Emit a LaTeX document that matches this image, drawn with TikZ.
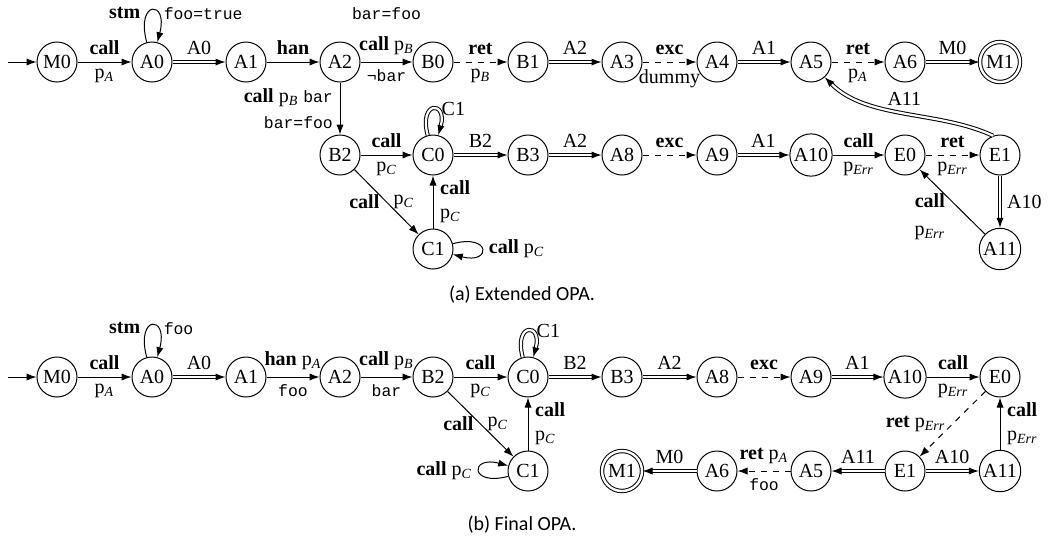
\documentclass[tikz,border=0pt]{standalone}
\usepackage{fontspec}
\setmainfont{Liberation Serif}
\setsansfont{Carlito}
\setmonofont{Liberation Mono}[Scale=0.82]
\usetikzlibrary{arrows.meta,positioning}
\newcommand\kw[1]{\textbf{#1}}
\newcommand\pr[1]{p\textsubscript{\textit{#1}}}
\newcommand\vr[1]{\texttt{#1}}
\begin{document}
\begin{tikzpicture}[x=0.5pt,y=0.5pt,
  stn/.style={circle,draw,line width=0.5pt,minimum size=20pt,inner sep=1pt},
  acc/.style={stn,double,double distance=1.2pt},
  arr/.style={-{Latex[length=5pt,width=3.6pt]},line width=0.5pt},
  darr/.style={arr,double,double distance=1.1pt},
  rarr/.style={arr,dashed},
  every loop/.style={},
  capt/.style={font=\sffamily\fontsize{10}{12}\selectfont}
]
\useasboundingbox (0,0) rectangle (1052,-543);

% ---------- (a) extended automaton ----------
\node[stn] (M0a) at (57,-62) {M0};
\node[stn] (A0a) at (152,-62) {A0};
\node[stn] (A1a) at (246,-62) {A1};
\node[stn] (A2a) at (340,-62) {A2};
\node[stn] (B0a) at (433,-62) {B0};
\node[stn] (B1a) at (528,-62) {B1};
\node[stn] (A3a) at (622,-62) {A3};
\node[stn] (A4a) at (717,-62) {A4};
\node[stn] (A5a) at (811,-62) {A5};
\node[stn] (A6a) at (905,-62) {A6};
\node[acc] (M1a) at (1000,-62) {M1};
\node[stn] (B2a) at (340,-155) {B2};
\node[stn] (C0a) at (433,-155) {C0};
\node[stn] (B3a) at (528,-155) {B3};
\node[stn] (A8a) at (622,-155) {A8};
\node[stn] (A9a) at (717,-155) {A9};
\node[stn] (A10a) at (811,-155) {A10};
\node[stn] (E0a) at (905,-155) {E0};
\node[stn] (E1a) at (1000,-155) {E1};
\node[stn] (C1a) at (433,-249) {C1};
\node[stn] (A11a) at (1000,-249) {A11};
\coordinate (ia) at (8,-62);

\draw[arr] (ia) -- (M0a);
\draw[arr] (M0a) -- node[above]{\kw{call}} node[below]{\pr{A}} (A0a);
\draw[arr] (A0a) to[out=105,in=75,looseness=8,min distance=22pt]
  node[pos=.35,left]{\kw{stm}} node[pos=.65,right]{\vr{foo=true}} (A0a);
\draw[darr] (A0a) -- node[above]{A0} (A1a);
\draw[arr] (A1a) -- node[above]{\kw{han}} (A2a);
\draw[arr] (A2a) -- node[above]{\kw{call} \pr{B}} node[below]{\vr{¬bar}}
  node[above=17.5pt]{\vr{bar=foo}} (B0a);
\draw[arr] (A2a) -- node[left,align=right]{\kw{call} \pr{B} \vr{bar}\\[1pt]\vr{bar=foo}} (B2a);
\draw[rarr] (B0a) -- node[above]{\kw{ret}} node[below]{\pr{B}} (B1a);
\draw[darr] (B1a) -- node[above]{A2} (A3a);
\draw[rarr] (A3a) -- node[above]{\kw{exc}} node[below]{dummy} (A4a);
\draw[darr] (A4a) -- node[above]{A1} (A5a);
\draw[rarr] (A5a) -- node[above]{\kw{ret}} node[below]{\pr{A}} (A6a);
\draw[darr] (A6a) -- node[above]{M0} (M1a);
\draw[darr] (E1a.110) .. controls +(155:60) and +(-45:60) .. node[above]{A11} (A5a.-48);

\draw[arr] (B2a) -- node[above]{\kw{call}} node[below]{\pr{C}} (C0a);
\draw[darr] (C0a) to[out=105,in=75,looseness=8,min distance=18pt] node[pos=.55,right]{C1} (C0a);
\draw[darr] (C0a) -- node[above]{B2} (B3a);
\draw[darr] (B3a) -- node[above]{A2} (A8a);
\draw[rarr] (A8a) -- node[above]{\kw{exc}} (A9a);
\draw[darr] (A9a) -- node[above]{A1} (A10a);
\draw[arr] (A10a) -- node[above]{\kw{call}} node[below]{\pr{Err}} (E0a);
\draw[rarr] (E0a) -- node[above]{\kw{ret}} node[below]{\pr{Err}} (E1a);
\draw[darr] (E1a) -- node[right]{A10} (A11a);
\draw[arr] (A11a) -- node[left,yshift=-7.5pt,align=center]{\kw{call}\\[2pt]\pr{Err}} (E0a);
\draw[arr] (B2a) -- node[left]{\kw{call}} node[right]{\pr{C}} (C1a);
\draw[arr] (C1a) -- node[above right]{\kw{call}} node[below right]{\pr{C}} (C0a);
\draw[arr] (C1a) to[out=15,in=-15,looseness=8,min distance=20pt] node[right]{\kw{call} \pr{C}} (C1a);

\node[capt] (capa) at (522,-295) {(a) Extended OPA.};

% ---------- (b) final automaton ----------
\node[stn] (M0b) at (57,-377) {M0};
\node[stn] (A0b) at (152,-377) {A0};
\node[stn] (A1b) at (246,-377) {A1};
\node[stn] (A2b) at (340,-377) {A2};
\node[stn] (B2b) at (433,-377) {B2};
\node[stn] (C0b) at (528,-377) {C0};
\node[stn] (B3b) at (622,-377) {B3};
\node[stn] (A8b) at (717,-377) {A8};
\node[stn] (A9b) at (811,-377) {A9};
\node[stn] (A10b) at (905,-377) {A10};
\node[stn] (E0b) at (1000,-377) {E0};
\node[stn] (C1b) at (528,-471) {C1};
\node[acc] (M1b) at (622,-471) {M1};
\node[stn] (A6b) at (717,-471) {A6};
\node[stn] (A5b) at (811,-471) {A5};
\node[stn] (E1b) at (905,-471) {E1};
\node[stn] (A11b) at (1000,-471) {A11};
\coordinate (ib) at (8,-377);

\draw[arr] (ib) -- (M0b);
\draw[arr] (M0b) -- node[above]{\kw{call}} node[below]{\pr{A}} (A0b);
\draw[arr] (A0b) to[out=105,in=75,looseness=8,min distance=22pt]
  node[pos=.35,left]{\kw{stm}} node[pos=.65,right]{\vr{foo}} (A0b);
\draw[darr] (A0b) -- node[above]{A0} (A1b);
\draw[arr] (A1b) -- node[above]{\kw{han} \pr{A}} node[below]{\vr{foo}} (A2b);
\draw[arr] (A2b) -- node[above]{\kw{call} \pr{B}} node[below]{\vr{bar}} (B2b);
\draw[arr] (B2b) -- node[above]{\kw{call}} node[below]{\pr{C}} (C0b);
\draw[darr] (C0b) to[out=105,in=75,looseness=8,min distance=18pt] node[pos=.55,right]{C1} (C0b);
\draw[darr] (C0b) -- node[above]{B2} (B3b);
\draw[darr] (B3b) -- node[above]{A2} (A8b);
\draw[rarr] (A8b) -- node[above]{\kw{exc}} (A9b);
\draw[darr] (A9b) -- node[above]{A1} (A10b);
\draw[arr] (A10b) -- node[above]{\kw{call}} node[below]{\pr{Err}} (E0b);
\draw[rarr] (E0b) -- node[left]{\kw{ret} \pr{Err}} (E1b);
\draw[darr] (E1b) -- node[above]{A10} (A11b);
\draw[darr] (E1b) -- node[above]{A11} (A5b);
\draw[rarr] (A5b) -- node[above]{\kw{ret} \pr{A}} node[below]{\vr{foo}} (A6b);
\draw[darr] (A6b) -- node[above]{M0} (M1b);
\draw[arr] (A11b) -- node[above right]{\kw{call}} node[below right]{\pr{Err}} (E0b);
\draw[arr] (B2b) -- node[left]{\kw{call}} node[right]{\pr{C}} (C1b);
\draw[arr] (C1b) -- node[above right]{\kw{call}} node[below right]{\pr{C}} (C0b);
\draw[arr] (C1b) to[out=195,in=165,looseness=8,min distance=20pt] node[left]{\kw{call} \pr{C}} (C1b);

\node[capt] (capb) at (522,-525) {(b) Final OPA.};
\end{tikzpicture}
\end{document}
